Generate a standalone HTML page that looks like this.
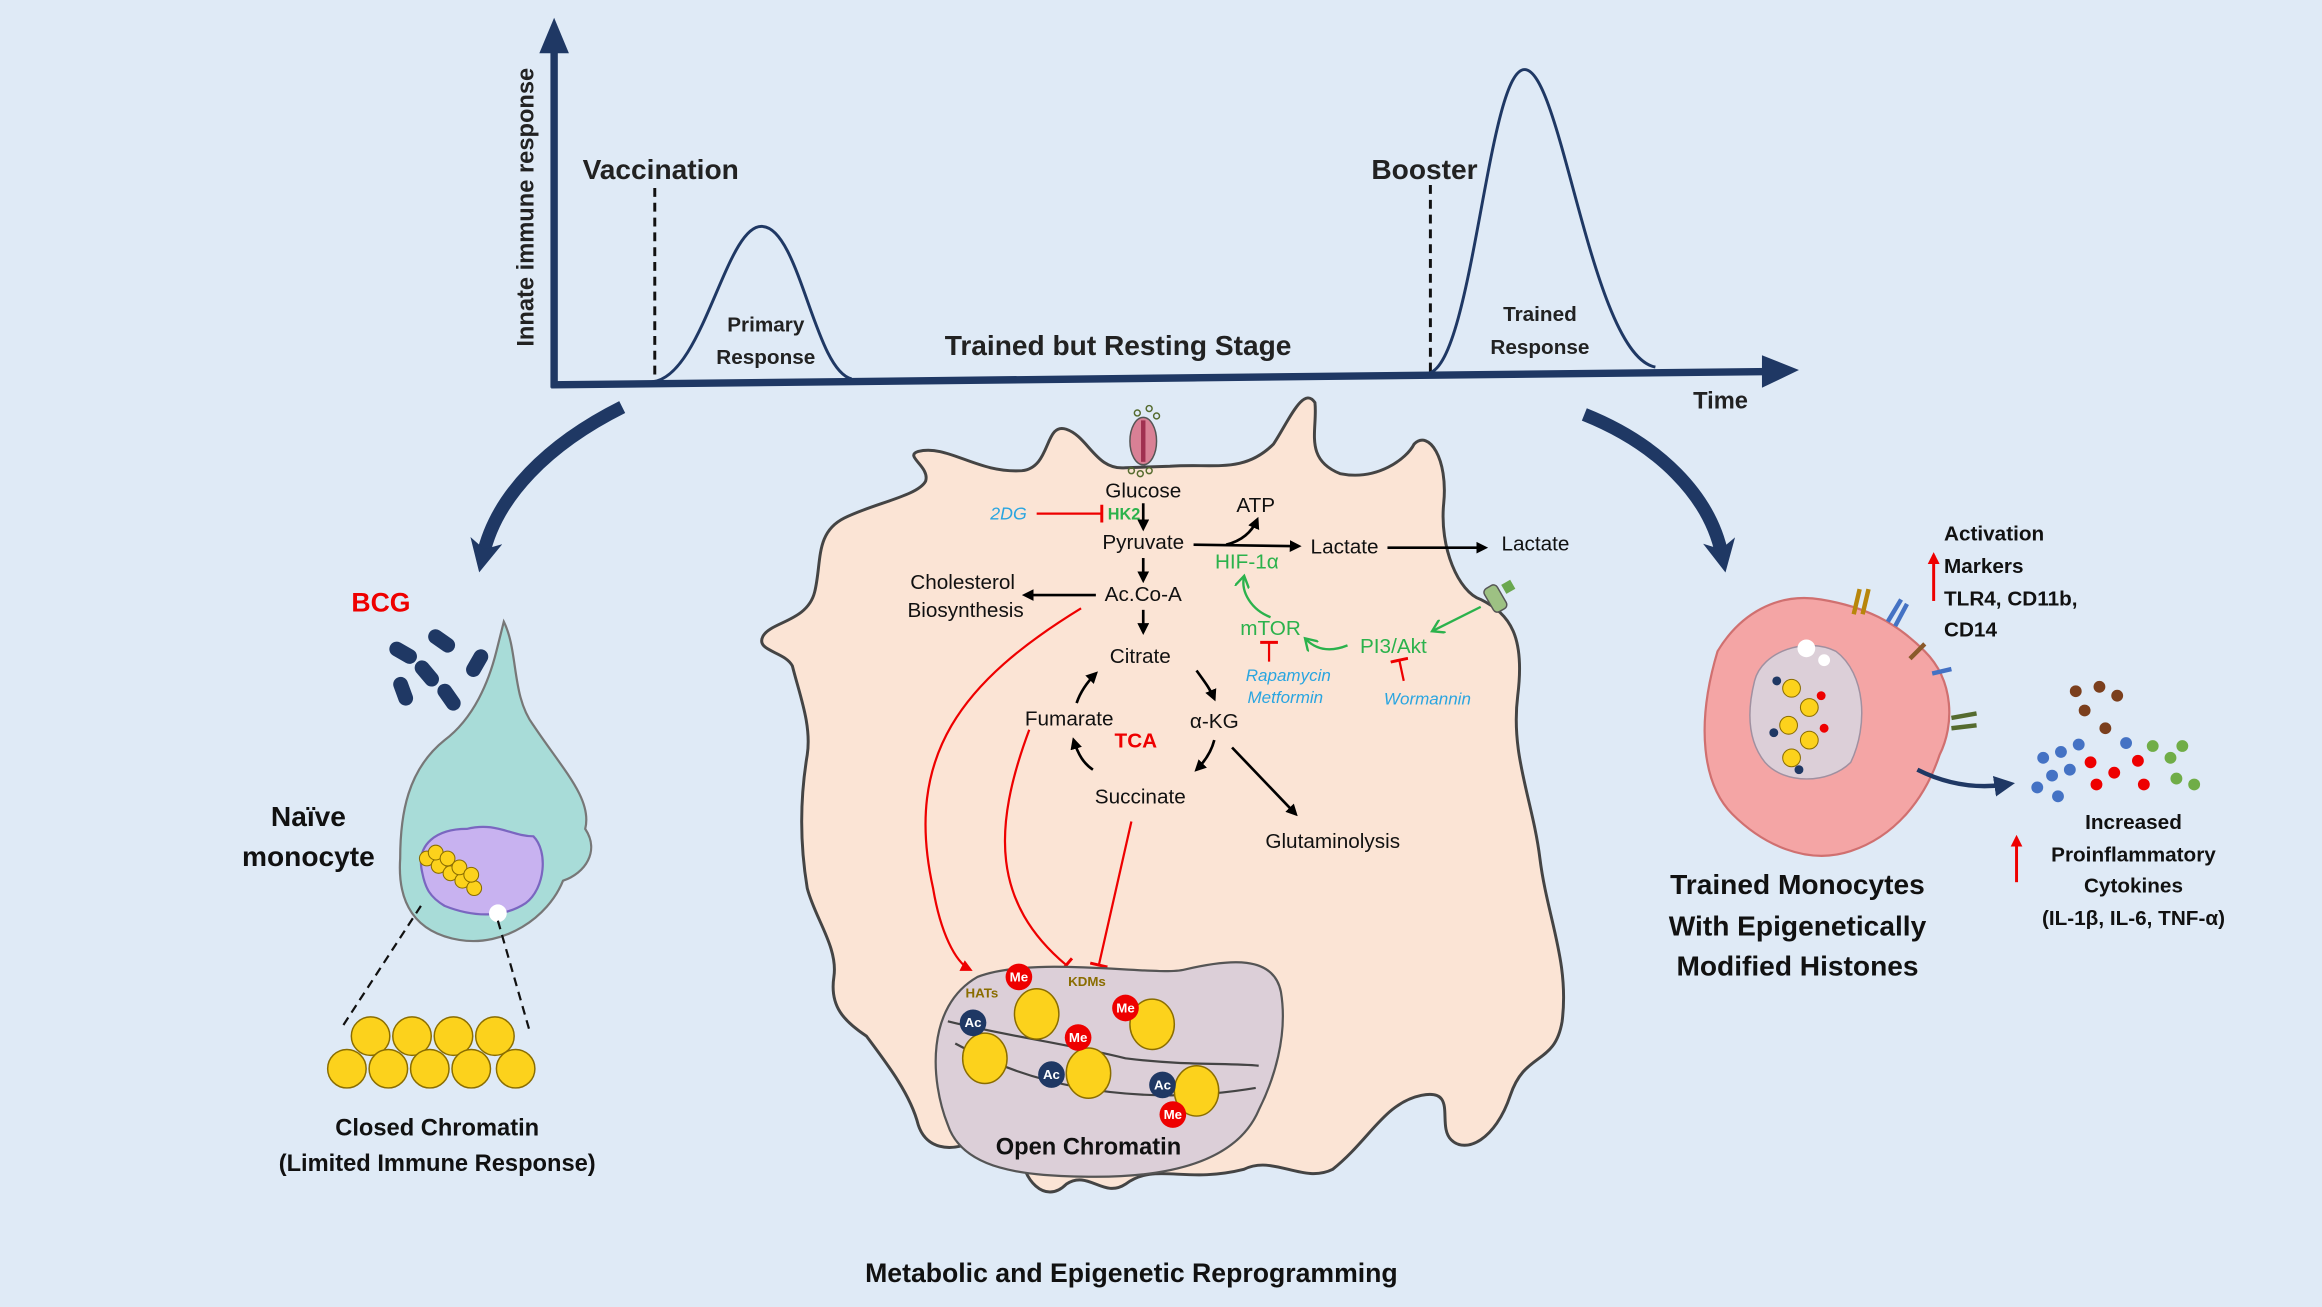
<!DOCTYPE html>
<html><head><meta charset="utf-8"><style>
html,body{margin:0;padding:0;background:#dfeaf6}
svg{display:block}
text{font-family:"Liberation Sans",sans-serif}
</style></head><body>
<svg width="2322" height="1307" viewBox="0 0 1568 883" xmlns="http://www.w3.org/2000/svg">
<defs>
<marker id="ab" markerWidth="8" markerHeight="8" refX="6" refY="4" orient="auto" markerUnits="userSpaceOnUse"><path d="M0,0 L8,4 L0,8 Z" fill="#000"/></marker>
<marker id="ar" markerWidth="8" markerHeight="8" refX="6" refY="4" orient="auto" markerUnits="userSpaceOnUse"><path d="M0,0 L8,4 L0,8 Z" fill="#e00"/></marker>
<marker id="ag" markerWidth="10" markerHeight="10" refX="7" refY="5" orient="auto" markerUnits="userSpaceOnUse"><path d="M0,0 L8,5 L0,10" fill="none" stroke="#2bb24c" stroke-width="1.6"/></marker>
<marker id="tr" markerWidth="4" markerHeight="12" refX="2" refY="6" orient="auto" markerUnits="userSpaceOnUse"><path d="M2,0 L2,12" stroke="#e00" stroke-width="2"/></marker>
<marker id="an" markerWidth="22" markerHeight="22" refX="10" refY="11" orient="auto" markerUnits="userSpaceOnUse"><path d="M0,0 L22,11 L0,22 L6,11 Z" fill="#1f3864"/></marker>
<marker id="an2" markerWidth="14" markerHeight="14" refX="8" refY="7" orient="auto" markerUnits="userSpaceOnUse"><path d="M0,0 L14,7 L0,14 Z" fill="#1f3864"/></marker>
</defs>
<rect width="1568" height="883" fill="#dfeaf6"/>

<!-- axes -->
<path d="M374,262 L374,30" stroke="#1f3864" stroke-width="5" fill="none"/>
<path d="M364,36 L374,12 L384,36 Z" fill="#1f3864"/>
<path d="M372,260 L1195,251" stroke="#1f3864" stroke-width="5" fill="none"/>
<path d="M1190,240 L1215,250 L1190,262 Z" fill="#1f3864"/>
<text x="360" y="140" transform="rotate(-90 360 140)" text-anchor="middle" font-size="16" font-weight="bold" fill="#222">Innate immune response</text>
<text x="446" y="121" text-anchor="middle" font-size="19" font-weight="bold" fill="#222">Vaccination</text>
<text x="962" y="121" text-anchor="middle" font-size="19" font-weight="bold" fill="#222">Booster</text>
<line x1="442" y1="127" x2="442" y2="258" stroke="#111" stroke-width="2" stroke-dasharray="6,4"/>
<line x1="966" y1="125" x2="966" y2="252" stroke="#111" stroke-width="2" stroke-dasharray="6,4"/>
<path d="M440,258 C475,255 490,150 515,153 C540,155 550,250 575,256" fill="none" stroke="#1f3864" stroke-width="2"/>
<path d="M965,252 C995,245 1005,45 1030,47 C1055,49 1075,240 1118,248" fill="none" stroke="#1f3864" stroke-width="2"/>
<text x="517" y="224" text-anchor="middle" font-size="14" font-weight="bold" fill="#222">Primary</text>
<text x="517" y="246" text-anchor="middle" font-size="14" font-weight="bold" fill="#222">Response</text>
<text x="1040" y="217" text-anchor="middle" font-size="14" font-weight="bold" fill="#222">Trained</text>
<text x="1040" y="239" text-anchor="middle" font-size="14" font-weight="bold" fill="#222">Response</text>
<text x="755" y="240" text-anchor="middle" font-size="19" font-weight="bold" fill="#222">Trained but Resting Stage</text>
<text x="1162" y="276" text-anchor="middle" font-size="16" font-weight="bold" fill="#222">Time</text>

<!-- big curved arrows -->
<path d="M420,275 C370,300 335,335 326,375" fill="none" stroke="#1f3864" stroke-width="9" marker-end="url(#an)"/>
<path d="M1070,280 C1120,300 1155,335 1163,375" fill="none" stroke="#1f3864" stroke-width="9" marker-end="url(#an)"/>

<!-- big cell -->
<path d="M620,305 C640,300 660,320 690,318 C710,316 705,285 720,290 C735,295 740,318 760,316 L790,315 C820,313 840,320 860,300 C870,285 880,260 888,272 C890,290 880,310 905,320 C930,325 950,310 955,300 C965,290 978,310 975,340 C972,370 985,400 1000,405 C1020,415 1030,430 1025,470 C1020,510 1035,540 1040,580 C1045,620 1060,650 1055,690 C1050,720 1030,710 1020,740 C1010,770 990,780 980,770 C970,760 985,735 960,740 C935,745 925,770 900,790 C880,800 860,780 840,790 C800,800 780,785 760,800 C745,810 735,790 720,800 C705,815 690,795 690,780 C690,770 675,760 660,770 C640,780 625,775 620,760 C615,740 600,720 585,700 C570,690 560,680 563,660 C566,640 550,620 545,600 C540,570 540,540 545,510 C548,490 540,470 535,450 C530,440 510,440 515,430 C520,420 545,420 550,400 C555,380 550,360 570,350 C590,340 620,335 625,325 C628,315 610,308 620,305 Z" fill="#fbe4d5" stroke="#444" stroke-width="2"/>

<!-- transporter -->
<ellipse cx="772" cy="298" rx="9" ry="16" fill="#d98095" stroke="#555"/>
<line x1="772" y1="284" x2="772" y2="312" stroke="#a03050" stroke-width="3"/>
<g fill="none" stroke="#556b2f" stroke-width="1"><circle cx="768" cy="279" r="2"/><circle cx="776" cy="276" r="2"/><circle cx="781" cy="281" r="2"/><circle cx="764" cy="318" r="2"/><circle cx="770" cy="320" r="2"/><circle cx="776" cy="318" r="2"/></g>

<!-- pathway text -->
<g font-size="14" fill="#111">
<text x="772" y="336" text-anchor="middle">Glucose</text>
<text x="772" y="371" text-anchor="middle">Pyruvate</text>
<text x="848" y="346" text-anchor="middle">ATP</text>
<text x="908" y="374" text-anchor="middle">Lactate</text>
<text x="1037" y="372" text-anchor="middle">Lactate</text>
<text x="772" y="406" text-anchor="middle">Ac.Co-A</text>
<text x="650" y="398" text-anchor="middle">Cholesterol</text>
<text x="652" y="417" text-anchor="middle">Biosynthesis</text>
<text x="770" y="448" text-anchor="middle">Citrate</text>
<text x="722" y="490" text-anchor="middle">Fumarate</text>
<text x="820" y="492" text-anchor="middle">α-KG</text>
<text x="770" y="543" text-anchor="middle">Succinate</text>
<text x="900" y="573" text-anchor="middle">Glutaminolysis</text>
</g>
<text x="767" y="505" text-anchor="middle" font-size="14" font-weight="bold" fill="#e00">TCA</text>
<text x="681" y="351" text-anchor="middle" font-size="12" font-style="italic" fill="#2aa5e0">2DG</text>
<text x="759" y="351" text-anchor="middle" font-size="11" font-weight="bold" fill="#2bb24c">HK2</text>
<g font-size="14" fill="#2bb24c">
<text x="842" y="384" text-anchor="middle">HIF-1α</text>
<text x="858" y="429" text-anchor="middle">mTOR</text>
<text x="941" y="441" text-anchor="middle">PI3/Akt</text>
</g>
<g font-size="11.5" font-style="italic" fill="#2aa5e0">
<text x="870" y="460" text-anchor="middle">Rapamycin</text>
<text x="868" y="475" text-anchor="middle">Metformin</text>
<text x="964" y="476" text-anchor="middle">Wormannin</text>
</g>

<g stroke="#000" stroke-width="1.8" fill="none">
<line x1="772" y1="340" x2="772" y2="357" marker-end="url(#ab)"/>
<line x1="772" y1="377" x2="772" y2="392" marker-end="url(#ab)"/>
<line x1="772" y1="412" x2="772" y2="427" marker-end="url(#ab)"/>
<line x1="740" y1="402" x2="692" y2="402" marker-end="url(#ab)"/>
<line x1="806" y1="368" x2="877" y2="369" marker-end="url(#ab)"/>
<path d="M828,368 C840,365 846,358 849,351" marker-end="url(#ab)"/>
<line x1="937" y1="370" x2="1003" y2="370" marker-end="url(#ab)"/>
<path d="M808,453 C813,460 817,465 820,472" marker-end="url(#ab)"/>
<path d="M820,500 C818,508 814,514 808,520" marker-end="url(#ab)"/>
<path d="M738,520 C732,516 728,510 725,500" marker-end="url(#ab)"/>
<path d="M727,475 C730,466 735,460 740,455" marker-end="url(#ab)"/>
<line x1="832" y1="505" x2="875" y2="550" marker-end="url(#ab)"/>
</g>
<g stroke="#e00" stroke-width="1.5" fill="none">
<line x1="700" y1="347" x2="744" y2="347" marker-end="url(#tr)"/>
<line x1="857" y1="447" x2="857" y2="434" marker-end="url(#tr)"/>
<line x1="948" y1="460" x2="945" y2="446" marker-end="url(#tr)"/>
<path d="M730,411 C650,460 610,510 630,600 C635,630 645,650 655,655" marker-end="url(#ar)"/>
<path d="M695,493 C670,560 670,610 720,652" marker-end="url(#tr)"/>
<path d="M764,555 L742,652" marker-end="url(#tr)"/>
</g>
<g stroke="#2bb24c" stroke-width="1.6" fill="none">
<path d="M858,417 C845,412 838,400 840,390" marker-end="url(#ag)"/>
<path d="M910,436 C900,440 890,440 882,432" marker-end="url(#ag)"/>
<path d="M1000,410 L968,426" marker-end="url(#ag)"/>
</g>
<g transform="translate(1012,402) rotate(-30)"><rect x="-8" y="-8" width="10" height="18" rx="3" fill="#9dc183" stroke="#555"/><rect x="5" y="-5" width="7" height="7" fill="#6aa84f"/></g>

<!-- nucleus center -->
<path d="M660,660 C700,645 780,660 800,655 C830,648 860,645 865,670 C870,700 860,730 850,750 C835,785 790,795 740,795 C690,795 650,790 640,760 C628,730 625,680 660,660 Z" fill="#dccfd8" stroke="#555" stroke-width="1.5"/>
<path d="M640,690 C680,700 720,705 760,715 C800,720 830,718 850,720" fill="none" stroke="#444" stroke-width="1.5"/>
<path d="M645,705 C690,730 740,740 790,740 C810,740 830,738 848,735" fill="none" stroke="#444" stroke-width="1.5"/>
<g fill="#fcd21c" stroke="#8a6d00" stroke-width="1">
<ellipse cx="700" cy="685" rx="15" ry="17"/><ellipse cx="665" cy="715" rx="15" ry="17"/><ellipse cx="735" cy="725" rx="15" ry="17"/><ellipse cx="778" cy="692" rx="15" ry="17"/><ellipse cx="808" cy="737" rx="15" ry="17"/>
</g>
<g font-size="9" font-weight="bold" fill="#fff" text-anchor="middle">
<circle cx="688" cy="660" r="9" fill="#e00"/><text x="688" y="663">Me</text>
<circle cx="760" cy="681" r="9" fill="#e00"/><text x="760" y="684">Me</text>
<circle cx="728" cy="701" r="9" fill="#e00"/><text x="728" y="704">Me</text>
<circle cx="792" cy="753" r="9" fill="#e00"/><text x="792" y="756">Me</text>
<circle cx="657" cy="691" r="9" fill="#1f3864"/><text x="657" y="694">Ac</text>
<circle cx="710" cy="726" r="9" fill="#1f3864"/><text x="710" y="729">Ac</text>
<circle cx="785" cy="733" r="9" fill="#1f3864"/><text x="785" y="736">Ac</text>
</g>
<text x="663" y="674" text-anchor="middle" font-size="9" font-weight="bold" fill="#8a6d00">HATs</text>
<text x="734" y="666" text-anchor="middle" font-size="9" font-weight="bold" fill="#8a6d00">KDMs</text>
<text x="735" y="780" text-anchor="middle" font-size="16" font-weight="bold" fill="#111">Open Chromatin</text>
<text x="764" y="866" text-anchor="middle" font-size="18" font-weight="bold" fill="#111">Metabolic and Epigenetic Reprogramming</text>

<!-- left naive monocyte -->
<text x="257" y="413" text-anchor="middle" font-size="18" font-weight="bold" fill="#e00">BCG</text>
<g fill="#1f3864">
<rect x="262" y="436" width="20" height="10" rx="5" transform="rotate(30 272 441)"/>
<rect x="288" y="428" width="20" height="10" rx="5" transform="rotate(35 298 433)"/>
<rect x="278" y="450" width="20" height="10" rx="5" transform="rotate(50 288 455)"/>
<rect x="312" y="443" width="20" height="10" rx="5" transform="rotate(-60 322 448)"/>
<rect x="262" y="462" width="20" height="10" rx="5" transform="rotate(70 272 467)"/>
<rect x="293" y="466" width="20" height="10" rx="5" transform="rotate(55 303 471)"/>
</g>
<path d="M340,420 C350,440 345,470 360,490 C380,520 400,540 395,560 C405,575 395,590 380,595 C370,620 340,640 310,635 C280,630 268,610 270,580 C270,550 275,520 300,500 C320,485 330,460 335,440 Z" fill="#a8dcd8" stroke="#777" stroke-width="1.5"/>
<path d="M285,590 C280,570 295,560 315,560 C335,555 345,565 360,565 C370,575 368,600 355,610 C340,620 320,620 300,612 C290,606 287,600 285,590 Z" fill="#c8b2f0" stroke="#7a66c0" stroke-width="1.5"/>
<g fill="#fcd21c" stroke="#8a6d00" stroke-width="0.7">
<circle cx="288" cy="580" r="5"/><circle cx="296" cy="585" r="5"/><circle cx="304" cy="590" r="5"/><circle cx="312" cy="595" r="5"/><circle cx="320" cy="600" r="5"/><circle cx="294" cy="576" r="5"/><circle cx="302" cy="580" r="5"/><circle cx="310" cy="586" r="5"/><circle cx="318" cy="591" r="5"/>
</g>
<circle cx="336" cy="617" r="6" fill="#fff"/>
<text x="208" y="558" text-anchor="middle" font-size="19" font-weight="bold" fill="#111">Naïve</text>
<text x="208" y="585" text-anchor="middle" font-size="19" font-weight="bold" fill="#111">monocyte</text>
<line x1="284" y1="612" x2="230" y2="695" stroke="#111" stroke-width="1.5" stroke-dasharray="6,4"/>
<line x1="336" y1="622" x2="357" y2="695" stroke="#111" stroke-width="1.5" stroke-dasharray="6,4"/>
<g fill="#fcd21c" stroke="#8a6d00" stroke-width="1">
<circle cx="250" cy="700" r="13"/><circle cx="278" cy="700" r="13"/><circle cx="306" cy="700" r="13"/><circle cx="334" cy="700" r="13"/>
<circle cx="234" cy="722" r="13"/><circle cx="262" cy="722" r="13"/><circle cx="290" cy="722" r="13"/><circle cx="318" cy="722" r="13"/><circle cx="348" cy="722" r="13"/>
</g>
<text x="295" y="767" text-anchor="middle" font-size="16" font-weight="bold" fill="#111">Closed Chromatin</text>
<text x="295" y="791" text-anchor="middle" font-size="16" font-weight="bold" fill="#111">(Limited Immune Response)</text>

<!-- right trained cell -->
<path d="M1160,440 C1175,415 1200,400 1230,405 C1260,410 1280,420 1300,440 C1320,460 1320,490 1310,510 C1300,540 1280,565 1250,575 C1220,585 1190,570 1170,550 C1150,530 1145,490 1160,440 Z" fill="#f4a5a5" stroke="#d07070" stroke-width="1.5"/>
<path d="M1185,460 C1190,440 1220,430 1240,440 C1260,455 1262,490 1250,515 C1235,530 1205,530 1192,515 C1180,500 1180,480 1185,460 Z" fill="#dccfd8" stroke="#a090a0"/>
<g fill="#fcd21c" stroke="#8a6d00" stroke-width="0.7"><circle cx="1210" cy="465" r="6"/><circle cx="1222" cy="478" r="6"/><circle cx="1208" cy="490" r="6"/><circle cx="1222" cy="500" r="6"/><circle cx="1210" cy="512" r="6"/></g>
<g><circle cx="1200" cy="460" r="3" fill="#1f3864"/><circle cx="1230" cy="470" r="3" fill="#e00"/><circle cx="1198" cy="495" r="3" fill="#1f3864"/><circle cx="1232" cy="492" r="3" fill="#e00"/><circle cx="1215" cy="520" r="3" fill="#1f3864"/></g>
<circle cx="1220" cy="438" r="6" fill="#fff"/><circle cx="1232" cy="446" r="4" fill="#fff"/>
<g stroke-width="3" fill="none">
<path d="M1252,415 L1256,398 M1258,415 L1262,398" stroke="#b8860b"/>
<path d="M1275,420 L1284,405 M1280,423 L1288,408" stroke="#4472c4"/>
<path d="M1290,445 L1300,435" stroke="#8a5a2b"/>
<path d="M1305,455 L1318,452" stroke="#4472c4"/>
<path d="M1318,485 L1335,482 M1318,492 L1335,490" stroke="#556b2f"/>
</g>
<line x1="1306" y1="406" x2="1306" y2="375" stroke="#e00" stroke-width="2" marker-end="url(#ar)"/>
<g font-size="14" font-weight="bold" fill="#111">
<text x="1313" y="365">Activation</text>
<text x="1313" y="387">Markers</text>
<text x="1313" y="409">TLR4, CD11b,</text>
<text x="1313" y="430">CD14</text>
</g>
<path d="M1295,520 C1315,530 1335,533 1355,530" fill="none" stroke="#1f3864" stroke-width="3" marker-end="url(#an2)"/>
<g>
<circle cx="1402" cy="467" r="4" fill="#7b3f1d"/><circle cx="1418" cy="464" r="4" fill="#7b3f1d"/><circle cx="1430" cy="470" r="4" fill="#7b3f1d"/><circle cx="1408" cy="480" r="4" fill="#7b3f1d"/><circle cx="1422" cy="492" r="4" fill="#7b3f1d"/>
<circle cx="1380" cy="512" r="4" fill="#4472c4"/><circle cx="1392" cy="508" r="4" fill="#4472c4"/><circle cx="1404" cy="503" r="4" fill="#4472c4"/><circle cx="1386" cy="524" r="4" fill="#4472c4"/><circle cx="1398" cy="520" r="4" fill="#4472c4"/><circle cx="1376" cy="532" r="4" fill="#4472c4"/><circle cx="1390" cy="538" r="4" fill="#4472c4"/><circle cx="1436" cy="502" r="4" fill="#4472c4"/>
<circle cx="1412" cy="515" r="4" fill="#e00"/><circle cx="1428" cy="522" r="4" fill="#e00"/><circle cx="1416" cy="530" r="4" fill="#e00"/><circle cx="1444" cy="514" r="4" fill="#e00"/><circle cx="1448" cy="530" r="4" fill="#e00"/>
<circle cx="1454" cy="504" r="4" fill="#70ad47"/><circle cx="1466" cy="512" r="4" fill="#70ad47"/><circle cx="1474" cy="504" r="4" fill="#70ad47"/><circle cx="1470" cy="526" r="4" fill="#70ad47"/><circle cx="1482" cy="530" r="4" fill="#70ad47"/>
</g>
<line x1="1362" y1="596" x2="1362" y2="566" stroke="#e00" stroke-width="2" marker-end="url(#ar)"/>
<g font-size="14" font-weight="bold" fill="#111" text-anchor="middle">
<text x="1441" y="560">Increased</text>
<text x="1441" y="582">Proinflammatory</text>
<text x="1441" y="603">Cytokines</text>
<text x="1441" y="625">(IL-1β, IL-6, TNF-α)</text>
</g>
<g font-size="19" font-weight="bold" fill="#111" text-anchor="middle">
<text x="1214" y="604">Trained Monocytes</text>
<text x="1214" y="632">With Epigenetically</text>
<text x="1214" y="659">Modified Histones</text>
</g>
</svg>
</body></html>
